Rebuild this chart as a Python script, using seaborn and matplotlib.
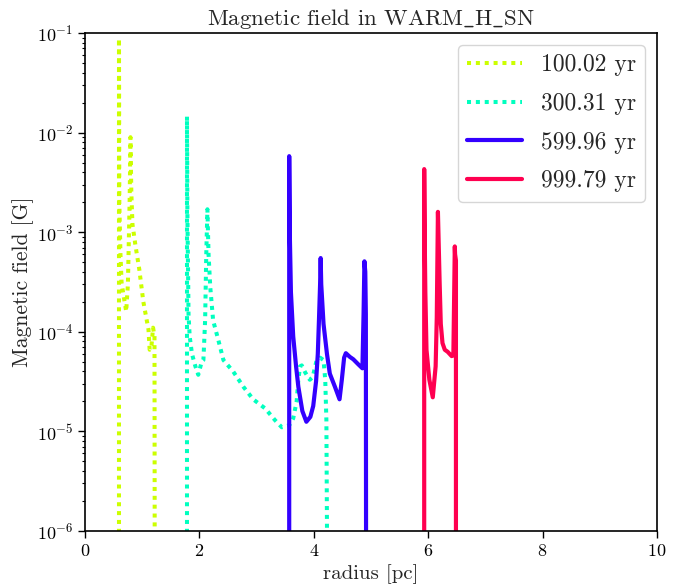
import numpy as np
import pandas as pd
import matplotlib
matplotlib.use("Agg")
import matplotlib.pyplot as plt
import seaborn as sns

# ---- data ----
labels = ["100.02 yr", "300.31 yr", "599.96 yr", "999.79 yr"]
colors = ["#ccff00", "#00ffbf", "#3300ff", "#ff0050"]

r1 = [0.594, 0.594, 0.600, 0.62, 0.64, 0.67, 0.72, 0.75, 0.78, 0.795, 0.81, 0.83,
      0.88, 0.95, 1.02, 1.08, 1.11, 1.13, 1.16, 1.19, 1.215, 1.22]
b1 = [1e-7, 0.088, 2e-3, 6e-4, 3.1e-4, 2.4e-4, 1.6e-4, 3e-4, 2e-3, 9e-3, 2.5e-3, 1.2e-3,
      7.5e-4, 4.2e-4, 2e-4, 1.3e-4, 1.05e-4, 6.6e-5, 7e-5, 1.1e-4, 9e-5, 1e-7]

r2 = [1.783, 1.783, 1.79, 1.80, 1.81, 1.83, 1.87, 1.93, 1.98, 2.04, 2.07, 2.10, 2.12,
      2.14, 2.16, 2.19, 2.24, 2.33, 2.42, 2.59, 2.77, 2.94, 3.15, 3.32, 3.44, 3.57,
      3.64, 3.70, 3.73, 3.76, 3.79, 3.85, 3.93, 3.98, 4.05, 4.11, 4.17, 4.20, 4.22, 4.24]
b2 = [1e-7, 0.0145, 1.5e-3, 5e-4, 1.5e-4, 9e-5, 6e-5, 4.5e-5, 3.7e-5, 5e-5, 5.2e-5,
      1.3e-4, 6e-4, 1.7e-3, 6e-4, 2.8e-4, 1.3e-4, 8.3e-5, 5.2e-5, 4e-5, 2.8e-5, 2.1e-5,
      1.7e-5, 1.3e-5, 1.1e-5, 1.15e-5, 1.35e-5, 2e-5, 3.3e-5, 4.5e-5, 4.6e-5, 3.9e-5,
      3.3e-5, 3.5e-5, 5.2e-5, 5.5e-5, 5.2e-5, 3.3e-5, 1.3e-5, 1e-7]

r3 = [3.57, 3.57, 3.58, 3.60, 3.64, 3.69, 3.73, 3.80, 3.87, 3.94, 3.99, 4.04, 4.07,
      4.09, 4.11, 4.12, 4.13, 4.17, 4.23, 4.28, 4.37, 4.45, 4.49, 4.53, 4.56, 4.63,
      4.69, 4.78, 4.85, 4.87, 4.885, 4.90, 4.91, 4.915]
b3 = [1e-7, 5.8e-3, 1e-3, 2.5e-4, 9e-5, 4.5e-5, 2.8e-5, 1.6e-5, 1.25e-5, 1.4e-5,
      1.8e-5, 3.2e-5, 6e-5, 1.3e-4, 3e-4, 5.5e-4, 3e-4, 1.2e-4, 6e-5, 3.8e-5, 2.8e-5,
      2.1e-5, 3.3e-5, 5.5e-5, 6.1e-5, 5.6e-5, 5.3e-5, 4.7e-5, 4.3e-5, 1.5e-4, 5.1e-4,
      4e-4, 1.5e-4, 1e-7]

r4 = [5.93, 5.93, 5.94, 5.95, 5.97, 6.02, 6.08, 6.13, 6.15, 6.17, 6.20, 6.22, 6.25,
      6.29, 6.34, 6.41, 6.44, 6.465, 6.47, 6.485, 6.485]
b4 = [1e-7, 4.3e-3, 8e-4, 2.5e-4, 6.6e-5, 3.3e-5, 2.2e-5, 4.5e-5, 1.4e-4, 1.6e-3,
      3.1e-4, 1.2e-4, 7.7e-5, 6.6e-5, 6.3e-5, 5.7e-5, 5.8e-5, 7.2e-4, 6e-4, 5.2e-4, 1e-7]

radii = [r1, r2, r3, r4]
fields = [b1, b2, b3, b4]
dotted = (0, (1, 1.2))
styles = [dotted, dotted, "-", "-"]
widths = [2.9, 2.9, 3.0, 3.0]

# ---- style ----
sns.set_theme(style="ticks")
plt.rcParams.update({
    "font.family": "serif",
    "font.serif": ["cmr10"],
    "mathtext.fontset": "cm",
    "axes.formatter.use_mathtext": True,
    "axes.unicode_minus": False,
    "axes.edgecolor": "black",
    "axes.linewidth": 1.2,
    "xtick.color": "black",
    "ytick.color": "black",
    "xtick.direction": "out",
    "ytick.direction": "out",
})

fig = plt.figure(figsize=(6.85, 5.85), dpi=100)
ax = fig.add_axes([85 / 685, 1 - 531 / 585, (657 - 85) / 685, (531 - 33) / 585])

for r, b, lab, c, ls, lw in zip(radii, fields, labels, colors, styles, widths):
    df = pd.DataFrame({"radius": r, "B": b})
    sns.lineplot(data=df, x="radius", y="B", sort=False, estimator=None,
                 color=c, linestyle=ls, linewidth=lw, label=lab, ax=ax)

ax.set_yscale("log")
ax.set_xlim(0, 10)
ax.set_ylim(1e-6, 1e-1)
ax.set_xticks([0, 2, 4, 6, 8, 10])
ax.tick_params(axis="both", which="major", labelsize=13, length=5, width=1)
ax.tick_params(axis="y", which="minor", length=2.5, width=0.8)
ax.set_xlabel("radius [pc]", fontsize=15)
ax.set_ylabel("Magnetic field [G]", fontsize=15.5, labelpad=2)
ax.set_title(r"Magnetic field in WARM$\_$H$\_$SN", fontsize=16.5)

leg = ax.legend(loc="upper right", fontsize=17, frameon=True, fancybox=True,
                framealpha=0.8, edgecolor="#cccccc", handlelength=2.3,
                labelspacing=0.7)

fig.savefig("out.png", dpi=100)
